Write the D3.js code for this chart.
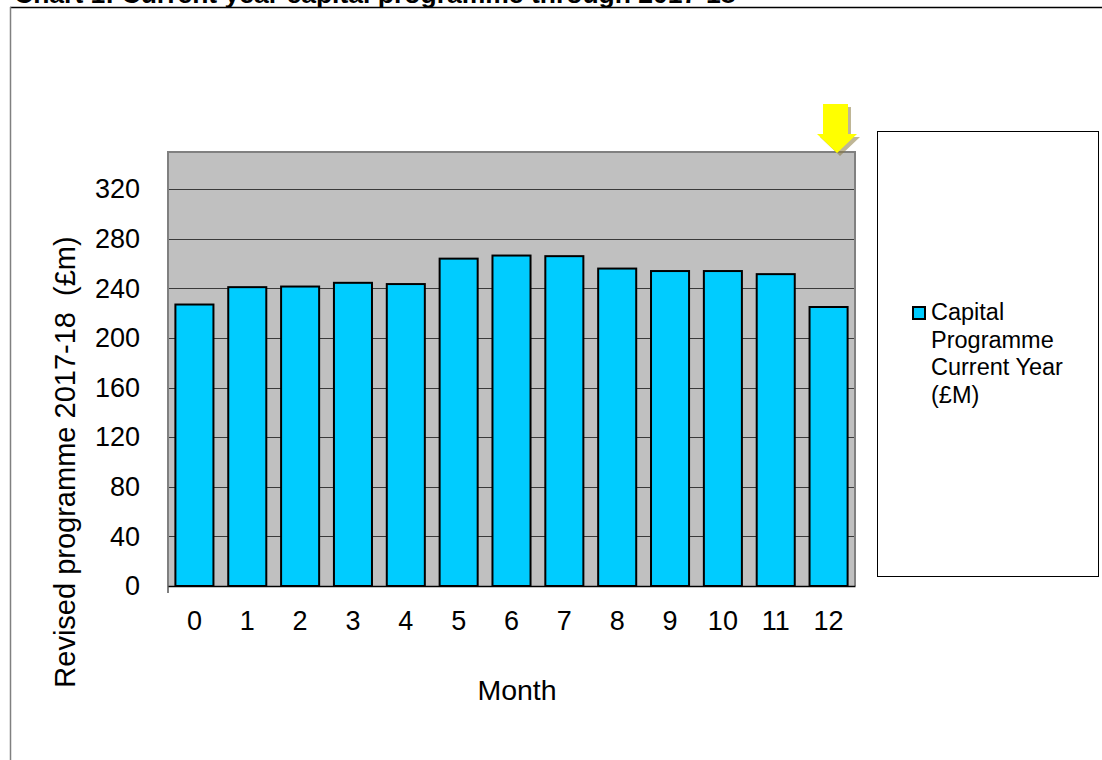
<!DOCTYPE html>
<html>
<head>
<meta charset="utf-8">
<script src="https://cdn.jsdelivr.net/npm/d3@7"></script>
<style>
  body { margin: 0; background: #fff; }
  svg { display: block; font-family: "Liberation Sans", Arial, sans-serif; }
</style>
</head>
<body>
<svg id="chart" width="1102" height="760"></svg>
<script>
// Month index and revised capital programme (£m)
const months = ["0", "1", "2", "3", "4", "5", "6", "7", "8", "9", "10", "11", "12"];
const programme = [227, 241, 241.5, 244.5, 243.5, 264, 266.5, 266, 256, 254, 254, 251.5, 225];
const yTicks = [0, 40, 80, 120, 160, 200, 240, 280, 320];
const legendLines = ["Capital", "Programme", "Current Year", "(£M)"];

const svg = d3.select("#chart");
const FONT = "Liberation Sans, Arial, sans-serif";

// Outer chart frame
svg.append("line").attr("x1", 10).attr("x2", 1102).attr("y1", 7.5).attr("y2", 7.5)
  .attr("stroke", "#000").attr("stroke-width", 1.5);
svg.append("line").attr("x1", 10.5).attr("x2", 10.5).attr("y1", 7).attr("y2", 760)
  .attr("stroke", "#808080").attr("stroke-width", 1.5);

// Title (runs off the top edge)
svg.append("text").attr("x", 14).attr("y", 3)
  .attr("font-size", 26.5).attr("font-weight", "bold")
  .text("Chart 1: Current year capital programme through 2017-18");

const plot = { left: 168, right: 855, top: 152, bottom: 586 };

const x = d3.scaleBand().domain(months).range([plot.left, plot.right]).paddingInner(0.28).paddingOuter(0.14);
const y = d3.scaleLinear().domain([0, 350]).range([plot.bottom, plot.top]);

// Plot background
svg.append("rect").attr("x", plot.left).attr("y", plot.top)
  .attr("width", plot.right - plot.left).attr("height", plot.bottom - plot.top)
  .attr("fill", "#c0c0c0");

// Gridlines
svg.append("g").selectAll("line").data(yTicks.filter(d => d > 0)).join("line")
  .attr("x1", plot.left).attr("x2", plot.right)
  .attr("y1", d => Math.round(y(d)) + 0.5).attr("y2", d => Math.round(y(d)) + 0.5)
  .attr("stroke", "#3a3a3a").attr("stroke-width", 1.2);

// Plot border
svg.append("path")
  .attr("d", `M${plot.left},${plot.bottom}V${plot.top}H${plot.right}V${plot.bottom}`)
  .attr("fill", "none").attr("stroke", "#808080").attr("stroke-width", 2);

// Bars
svg.append("g").selectAll("rect").data(programme).join("rect")
  .attr("x", (d, i) => x(months[i]))
  .attr("y", d => y(d))
  .attr("width", x.bandwidth())
  .attr("height", d => y(0) - y(d))
  .attr("fill", "#00ccff").attr("stroke", "#000").attr("stroke-width", 2);

// Y axis
const yAxis = svg.append("g").attr("transform", `translate(${plot.left},0)`)
  .call(d3.axisLeft(y).tickValues(yTicks).tickSize(0).tickPadding(28));
yAxis.select(".domain").remove();
yAxis.selectAll("text").attr("font-size", 27).attr("fill", "#000").attr("font-family", FONT);

// X axis
const xAxis = svg.append("g").attr("transform", `translate(0,${plot.bottom})`)
  .call(d3.axisBottom(x).tickSize(0).tickPadding(25));
xAxis.select(".domain").attr("stroke", "#000").attr("stroke-width", 1.5);
xAxis.selectAll("text").attr("font-size", 27).attr("fill", "#000").attr("font-family", FONT);
svg.append("line").attr("x1", plot.left).attr("x2", plot.left)
  .attr("y1", plot.bottom).attr("y2", plot.bottom + 7).attr("stroke", "#000");

// Axis titles
svg.append("text").attr("x", 517).attr("y", 700).attr("text-anchor", "middle")
  .attr("font-size", 28.5).text("Month");
svg.append("text")
  .attr("transform", `translate(75,462) rotate(-90)`)
  .attr("text-anchor", "middle").attr("font-size", 29)
  .attr("xml:space", "preserve")
  .text("Revised programme 2017-18  (£m)");

// Legend
svg.append("rect").attr("x", 877.5).attr("y", 131.5).attr("width", 221).attr("height", 445)
  .attr("fill", "#fff").attr("stroke", "#000").attr("stroke-width", 1);
svg.append("rect").attr("x", 913).attr("y", 307).attr("width", 12).attr("height", 12)
  .attr("fill", "#00ccff").attr("stroke", "#000").attr("stroke-width", 2);
svg.append("g").selectAll("text").data(legendLines).join("text")
  .attr("x", 931).attr("y", (d, i) => 320 + i * 27.7)
  .attr("font-size", 23.5).text(d => d);

// Yellow down arrow marker with drop shadow
const arrowPath = "M0,0H25V30H34L14,49L-6,30H0Z";
svg.append("path").attr("d", arrowPath).attr("transform", "translate(826,107)")
  .attr("fill", "#8a7a40").attr("opacity", 0.55);
svg.append("path").attr("d", arrowPath).attr("transform", "translate(823,104)")
  .attr("fill", "#ffff00");
</script>
</body>
</html>
